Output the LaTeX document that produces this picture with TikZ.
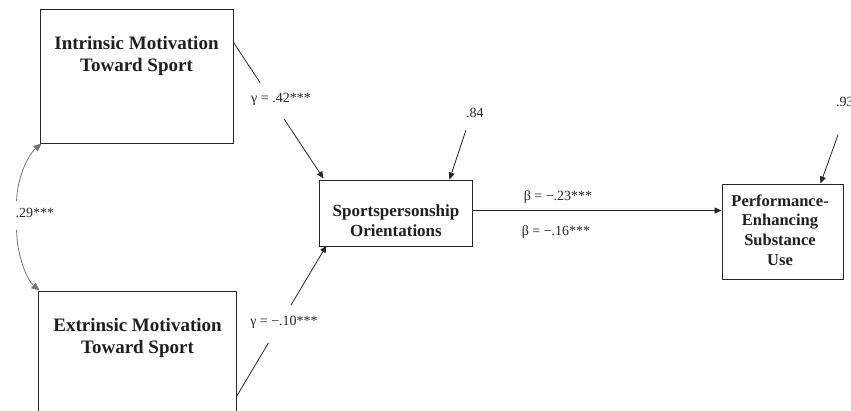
\documentclass[tikz,border=0pt]{standalone}
\usepackage{fontspec}
\setmainfont{Liberation Serif}
\usetikzlibrary{arrows.meta,calc}
\begin{document}
\begin{tikzpicture}[x=1pt,y=-1pt,
  box/.style={draw=black!85,line width=1pt,rectangle,inner sep=0pt},
  title/.style={font=\bfseries\fontsize{19}{22}\selectfont,align=center,inner sep=0pt,text=black!88},
  stitle/.style={font=\bfseries\fontsize{17}{20}\selectfont,align=center,inner sep=0pt,text=black!88},
  ptitle/.style={font=\bfseries\fontsize{16.5}{19.7}\selectfont,align=center,inner sep=0pt,text=black!88},
  lab/.style={font=\fontsize{14}{16}\selectfont,inner sep=0pt,text=black!85},
  arr/.style={draw=black!85,line width=0.8pt,-{Triangle[length=7pt,width=6pt]}},
  seg/.style={draw=black!85,line width=0.8pt},
  garr/.style={draw=black!55,line width=0.8pt,-{Triangle[length=8pt,width=7pt]}}
]
\useasboundingbox (0,0) rectangle (851,410);
\fill[white] (0,0) rectangle (851,410);

% boxes
\node[box,minimum width=193pt,minimum height=134pt] (intr) at (136.5,76) {};
\node[title] (intrt) at (136.5,56) {Intrinsic Motivation\\Toward Sport};
\node[box,minimum width=198pt,minimum height=150pt] (extr) at (137,366) {};
\node[title] (extrt) at (137.5,338) {Extrinsic Motivation\\Toward Sport};
\node[box,minimum width=153pt,minimum height=66pt] (spo) at (395.5,213) {};
\node[stitle] (spot) at (396,221) {Sportspersonship\\Orientations};
\node[box,minimum width=121pt,minimum height=95pt] (pes) at (782.5,231.5) {};
\node[ptitle] (pest) at (780,230) {Performance-\\Enhancing\\Substance\\Use};

% labels
\node[lab] (g1) at (281,99) {γ = .42***};
\node[lab] (g2) at (284,322) {γ = −.10***};
\node[lab] (b1) at (558,197) {β = −.23***};
\node[lab] (b2) at (556,232) {β = −.16***};
\node[lab,anchor=west] (e84) at (466,113) {.84};
\node[lab,anchor=west] (e93) at (836,102) {.93};
\node[lab] (r29) at (35,213) {.29***};

% intrinsic -> sportspersonship (broken line)
\coordinate (a1) at ($(intr.north east)+(0,34)$);
\coordinate (a2) at ($(spo.north west)+(5,-1)$);
\draw[seg] (a1) -- ($(a1)!0.296!(a2)$);
\draw[arr] ($(a1)!0.563!(a2)$) -- (a2);

% extrinsic -> sportspersonship (broken line)
\coordinate (c1) at ($(extr.north east)+(0,106)$);
\coordinate (c2) at ($(spo.south west)+(8,-1)$);
\draw[seg] (c1) -- ($(c1)!0.355!(c2)$);
\draw[arr] ($(c1)!0.605!(c2)$) -- (c2);

% residuals
\coordinate (d84) at ($(e84.south west)+(0,12)$);
\draw[arr] (d84) -- ($(spo.north east)+(-23,0)$);
\coordinate (d93) at ($(e93.south west)+(2,28)$);
\draw[arr] (d93) -- ($(pes.north east)+(-23,0)$);

% sportspersonship -> PES
\coordinate (bs) at ($(spo.east)+(0,-2.5)$);
\draw[arr] (bs) -- (bs -| pes.west);

% correlation curve
\draw[garr] ($(r29.north west)+(1,-7)$) .. controls (17,180) and (27,156) .. ($(intr.south west)+(2,0)$);
\draw[garr] ($(r29.south west)+(1,12)$) .. controls (17,256) and (27,280) .. ($(extr.north west)+(2,0)$);
\end{tikzpicture}
\end{document}
